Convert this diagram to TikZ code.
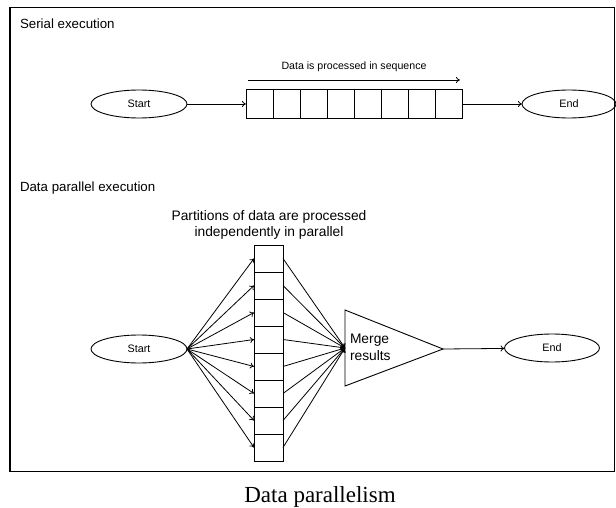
\documentclass[tikz,border=0pt]{standalone}
\usepackage{fontspec}
\newfontfamily\diagfont{Liberation Sans}
\newfontfamily\capfont{Liberation Serif}
\usetikzlibrary{arrows.meta,shapes.geometric}

\begin{document}
\begin{tikzpicture}[x=1pt,y=-1pt,
  every node/.style={inner sep=0pt, outer sep=0pt},
  term/.style={draw, ellipse, minimum width=96pt, minimum height=28pt,
    line width=0.9pt, font=\diagfont\fontsize{10.8}{12}\selectfont},
  cell/.style={draw, minimum width=27.1pt, minimum height=29pt, line width=1pt},
  pcell/.style={draw, minimum width=29pt, minimum height=27pt, line width=1pt},
  flow/.style={-{To[length=4pt,width=6pt]}, line width=0.8pt},
  heading/.style={anchor=west, font=\diagfont\fontsize{13.3}{15}\selectfont},
  note/.style={font=\diagfont\fontsize{13.8}{16.5}\selectfont},
]
\useasboundingbox (0,0) rectangle (616,508);
% outer frame
\draw[line width=1.3pt] (10,7.5) rectangle (614.5,471.5);

% ---- serial execution ----
\node[heading] (sertitle) at (20,23.5) {Serial execution};
\node[term] (start1) at (139,104) {Start};
\foreach \i in {1,...,8}
  \node[cell] (s\i) at ({246+27.1*(\i-0.5)},104) {};
\node[term, minimum width=94pt] (end1) at (569,104) {End};
\draw[flow] (start1) -- (s1);
\draw[flow] (s8) -- (end1);
\coordinate (seqa) at (248,80);
\coordinate (seqb) at (460,80);
\draw[flow] (seqa) -- (seqb);
\node[font=\diagfont\fontsize{10.6}{12}\selectfont] (seqlabel) at (354,67)
  {Data is processed in sequence};

% ---- data parallel execution ----
\node[heading] (partitle) at (20,188) {Data parallel execution};
\node[note, align=center] (partlabel) at (269,225)
  {Partitions of data are processed\\independently in parallel};
\foreach \i in {1,...,8}
  \node[pcell] (p\i) at (268.5,{245+27*(\i-0.5)}) {};
\node[term] (start2) at (139,349) {Start};

% merge triangle
\coordinate (tritop) at (345,310);
\coordinate (triapex) at (443,349);
\coordinate (tribot) at (345,386);
\coordinate (mergein) at (345,348);
\draw[line width=0.9pt] (tritop) -- (triapex) -- (tribot) -- cycle;
\node[note, anchor=west, align=left] (mergetext) at (350,347.5) {Merge\\results};
\node[term, minimum width=95pt] (end2) at (552,348) {End};

\foreach \i in {1,...,8} {
  \draw[flow] (start2.east) -- (p\i.west);
  \draw[flow] (p\i.east) -- (mergein);
}
\draw[flow] (triapex) -- (end2);

% caption
\node[font=\capfont\fontsize{23}{26}\selectfont] (caption) at (320,497) {Data parallelism};
\end{tikzpicture}
\end{document}
